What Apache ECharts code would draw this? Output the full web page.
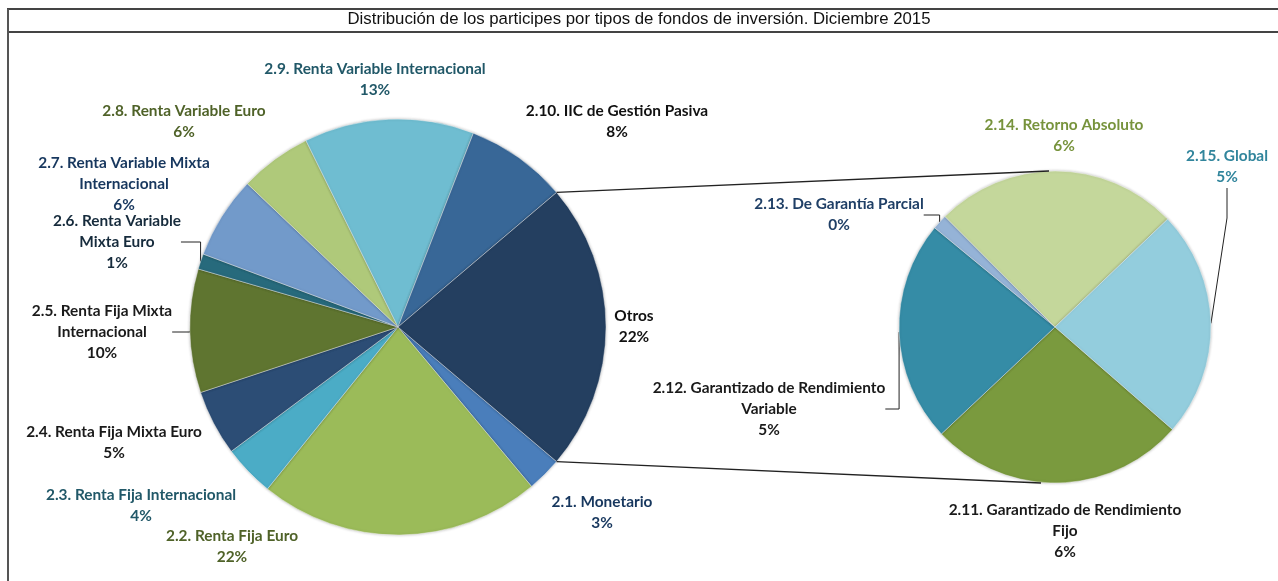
<!DOCTYPE html>
<html>
<head>
<meta charset="utf-8">
<script src="https://cdn.jsdelivr.net/npm/echarts@6/dist/echarts.min.js"></script>
<style>
html,body{margin:0;padding:0;background:#fff;}
#chart{width:1278px;height:581px;}
</style>
</head>
<body>
<div id="chart"></div>
<script>
// ---- Data ----
const titleText = 'Distribución de los participes por tipos de fondos de inversión. Diciembre 2015';

const mainCategories = [
  '2.1. Monetario', '2.2. Renta Fija Euro', '2.3. Renta Fija Internacional',
  '2.4. Renta Fija Mixta Euro', '2.5. Renta Fija Mixta Internacional',
  '2.6. Renta Variable Mixta Euro', '2.7. Renta Variable Mixta Internacional',
  '2.8. Renta Variable Euro', '2.9. Renta Variable Internacional',
  '2.10. IIC de Gestión Pasiva', 'Otros'
];
const mainValues = [2.7, 21.9, 4.0, 5.1, 9.6, 1.2, 6.4, 5.6, 13.2, 7.9]; // 'Otros' = sum of secondary

const subCategories = [
  '2.11. Garantizado de Rendimiento Fijo', '2.12. Garantizado de Rendimiento Variable',
  '2.13. De Garantía Parcial', '2.14. Retorno Absoluto', '2.15. Global'
];
const subValues = [5.95, 5.15, 0.35, 5.67, 5.28];

// ---- Presentation (wrapping, colours, label placement) ----
const mainLabelWrap = [
  '2.1. Monetario', '2.2. Renta Fija Euro', '2.3. Renta Fija Internacional',
  '2.4. Renta Fija Mixta Euro', '2.5. Renta Fija Mixta\nInternacional',
  '2.6. Renta Variable\nMixta Euro', '2.7. Renta Variable Mixta\nInternacional',
  '2.8. Renta Variable Euro', '2.9. Renta Variable Internacional',
  '2.10. IIC de Gestión Pasiva', 'Otros'
];
const subLabelWrap = [
  '2.11. Garantizado de Rendimiento\nFijo', '2.12. Garantizado de Rendimiento\nVariable',
  '2.13. De Garantía Parcial', '2.14. Retorno Absoluto', '2.15. Global'
];
const mainColors = ['#4a7ebb', '#9bbb59', '#4bacc6', '#2c4d75', '#5f7530', '#276a7c',
                    '#729aca', '#afc97a', '#6fbdd1', '#386797', '#243f60'];
const subColors = ['#7a9a3e', '#358ca6', '#95b3d7', '#c4d79b', '#93cddd'];
const mainLabelColors = ['#17375e', '#4f6228', '#215868', '#1a1a1a', '#1a1a1a', '#162b3c',
                         '#17375e', '#4f6228', '#215868', '#111111', '#111111'];
const subLabelColors = ['#1a1a1a', '#1a1a1a', '#1f3f66', '#77933c', '#31859c'];
const mainLabelPos = [[602,513],[232,547],[141,506],[114,443],[102,332],[117,242],
                      [124,184],[184,122],[375,80],[617,122],[634,327]];
const subLabelPos = [[1065,531],[769,409],[839,215],[1064,136],[1227,167]];
const mainLeader = [false,false,false,false,true,true,false,false,false,false,false];
const subLeader = [false,true,true,false,true];

const mainCenter = [398, 327], mainR = 208;
const subCenter = [1055, 327], subR = 156;

const otros = subValues.reduce((a, b) => a + b, 0);
const allMain = mainValues.concat([otros]);
const mainTotal = allMain.reduce((a, b) => a + b, 0);
const otrosHalf = otros / mainTotal * 360 / 2;

const labelFont = { fontFamily: 'Lato, "Open Sans", sans-serif', fontWeight: 'bold', fontSize: 15.4, lineHeight: 21 };

function buildData(cats, vals, wraps, colors, lcolors, leaders) {
  return cats.map((c, i) => ({
    name: c,
    value: vals[i],
    itemStyle: { color: colors[i] },
    label: Object.assign({
      color: lcolors[i],
      formatter: wraps[i] + '\n' + Math.round(vals[i]) + '%'
    }, labelFont),
    labelLine: { show: leaders[i], lineStyle: { color: '#222', width: 1 } }
  }));
}

const chart = echarts.init(document.getElementById('chart'), null, { renderer: 'canvas' });

function rad(d) { return d * Math.PI / 180; }
const topA = rad(otrosHalf), botA = rad(-otrosHalf);

const pieItemStyle = {
  borderColor: 'rgba(255,255,255,0.5)', borderWidth: 0.8,
  shadowBlur: 3, shadowColor: 'rgba(0,0,0,0.28)'
};

const option = {
  animation: false,
  backgroundColor: '#ffffff',
  graphic: [
    { type: 'rect', shape: { x: 8, y: 9, width: 1290, height: 23 }, style: { fill: 'none', stroke: '#444', lineWidth: 2 } },
    { type: 'line', shape: { x1: 8, y1: 9, x2: 8, y2: 600 }, style: { stroke: '#555', lineWidth: 2 } },
    { type: 'text', left: 'center', top: 11, style: {
        text: titleText, x: 0, fill: '#111',
        font: '16.8px "Liberation Sans Narrow", "Liberation Sans", Arial, sans-serif' } },
    { type: 'line', z: 10, shape: {
        x1: mainCenter[0] + mainR * Math.cos(topA), y1: mainCenter[1] - mainR * Math.sin(topA),
        x2: subCenter[0] - 6, y2: subCenter[1] - subR }, style: { stroke: '#222', lineWidth: 1.3 } },
    { type: 'line', z: 10, shape: {
        x1: mainCenter[0] + mainR * Math.cos(botA), y1: mainCenter[1] - mainR * Math.sin(botA),
        x2: subCenter[0] - 14, y2: subCenter[1] + subR }, style: { stroke: '#222', lineWidth: 1.3 } }
  ],
  series: [
    {
      type: 'pie',
      center: mainCenter,
      radius: [0, mainR],
      startAngle: -otrosHalf,
      clockwise: true,
      avoidLabelOverlap: false,
      itemStyle: pieItemStyle,
      label: { show: true, position: 'outside', align: 'center' },
      labelLayout: function (p) {
        const pos = mainLabelPos[p.dataIndex];
        return { x: pos[0], y: pos[1], align: 'center', verticalAlign: 'middle', hideOverlap: false };
      },
      data: buildData(mainCategories, allMain, mainLabelWrap, mainColors, mainLabelColors, mainLeader)
    },
    {
      type: 'pie',
      center: subCenter,
      radius: [0, subR],
      startAngle: -41.1,
      clockwise: true,
      avoidLabelOverlap: false,
      itemStyle: pieItemStyle,
      label: { show: true, position: 'outside', align: 'center' },
      labelLayout: function (p) {
        const pos = subLabelPos[p.dataIndex];
        return { x: pos[0], y: pos[1], align: 'center', verticalAlign: 'middle', hideOverlap: false };
      },
      data: buildData(subCategories, subValues, subLabelWrap, subColors, subLabelColors, subLeader)
    }
  ]
};
chart.setOption(option);
</script>
</body>
</html>
